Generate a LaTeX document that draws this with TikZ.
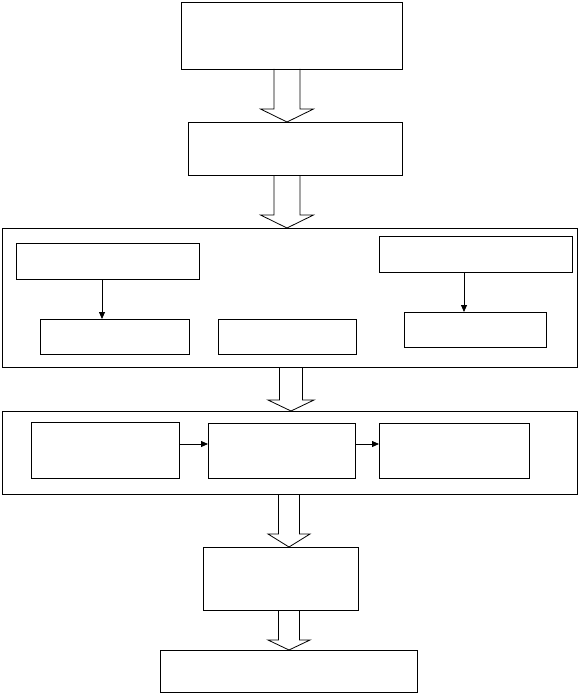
\documentclass[tikz,border=0pt]{standalone}
\usetikzlibrary{arrows.meta,calc}
\tikzset{
  box/.style={draw=black, line width=0.9pt, fill=white, inner sep=0pt, outer sep=0pt, rectangle},
  hollow/.style={draw=black, line width=0.8pt, line join=miter},
  sarrow/.style={draw=black, line width=0.8pt, -{Triangle[length=7pt,width=6pt]}}
}
% box: name, x1, y1, x2, y2 (pixel coordinates, y downward)
\newcommand\bx[5]{\node[box, minimum width={(#4-#2)*1pt}, minimum height={(#5-#3)*1pt}] (#1) at ({(#2+#4)/2},{(#3+#5)/2}) {};}
% hollow arrow: centre x, shaft half width, wing half width, head length, from node, to node
\newcommand\hollowarrow[6]{\draw[hollow] let \p1=(#5.south), \p2=(#6.north) in
  (#1pt-#2pt,\y1) -- (#1pt-#2pt,\y2+#4pt) -- (#1pt-#3pt,\y2+#4pt) -- (#1pt,\y2)
  -- (#1pt+#3pt,\y2+#4pt) -- (#1pt+#2pt,\y2+#4pt) -- (#1pt+#2pt,\y1);}
\begin{document}
\begin{tikzpicture}[x=1pt,y=-1pt]
\useasboundingbox (0,0) rectangle (578,693);
% top boxes
\bx{b1}{181}{2}{402}{69}
\bx{b2}{188}{122}{402}{175}
% first group
\bx{g1}{2}{228}{577}{367}
\bx{ga}{16}{243}{199}{279}
\bx{gb}{40}{319}{189}{354}
\bx{gc}{218}{319}{356}{354}
\bx{gd}{379}{236}{572}{272}
\bx{ge}{404}{312}{546}{347}
% second group
\bx{g2}{2}{411}{577}{494}
\bx{gg}{31}{422}{179}{478}
\bx{gh}{208}{423}{355}{478}
\bx{gi}{379}{423}{529}{478}
% lower boxes
\bx{bf}{203}{547}{358}{610}
\bx{bj}{160}{650}{417}{692}
% hollow arrows
\hollowarrow{287}{13}{26.5}{13}{b1}{b2}
\hollowarrow{287}{13}{26.5}{13}{b2}{g1}
\hollowarrow{291}{11.5}{23}{11}{g1}{g2}
\hollowarrow{289}{10.5}{21}{13}{g2}{bf}
\hollowarrow{289}{10.5}{21}{10}{bf}{bj}
% small arrows
\coordinate (xa) at (102,0);
\coordinate (xd) at (464,0);
\coordinate (yg) at (0,444);
\draw[sarrow] (ga.south -| xa) -- (gb.north -| xa);
\draw[sarrow] (gd.south -| xd) -- (ge.north -| xd);
\draw[sarrow] (gg.east |- yg) -- (gh.west |- yg);
\draw[sarrow] (gh.east |- yg) -- (gi.west |- yg);
\end{tikzpicture}
\end{document}
